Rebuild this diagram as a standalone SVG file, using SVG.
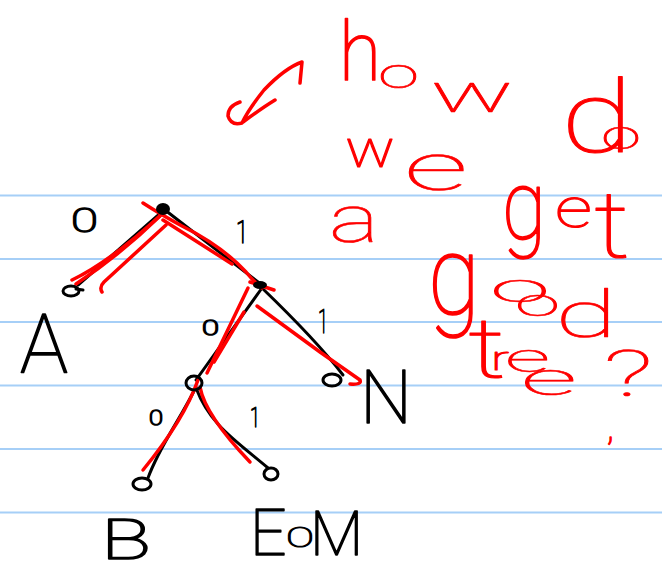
<svg xmlns="http://www.w3.org/2000/svg" width="662" height="573" viewBox="0 0 662 573">
<style>
.rule{stroke:#a6cff7;stroke-width:2.2}
.blk{fill:none;stroke:#000;stroke-width:3;stroke-linecap:round;stroke-linejoin:round}
.red{fill:none;stroke:#ff0000;stroke-width:3.5;stroke-linecap:round;stroke-linejoin:round}
.loop{fill:none;stroke:#000;stroke-width:3}
.lb{font-family:Roboto,"Open Sans","Liberation Sans",sans-serif;font-weight:100;fill:#000;stroke:#000;stroke-width:1.6;stroke-linejoin:round}
.rt{font-family:Roboto,"Open Sans","Liberation Sans",sans-serif;font-weight:100;fill:#ff0000;stroke:#ff0000;stroke-width:1.7;stroke-linejoin:round}
.sm{stroke-width:1.5}
.st{stroke-width:0.6}
.md{stroke-width:1.1}
</style>
<rect width="662" height="573" fill="#fff"/>
<g id="ruled-lines">
<line class="rule" x1="0" y1="195.5" x2="662" y2="195.5"/>
<line class="rule" x1="0" y1="259" x2="662" y2="259"/>
<line class="rule" x1="0" y1="322" x2="662" y2="322"/>
<line class="rule" x1="0" y1="385.5" x2="662" y2="385.5"/>
<line class="rule" x1="0" y1="449" x2="662" y2="449"/>
<line class="rule" x1="0" y1="512.5" x2="662" y2="512.5"/>
</g>
<g id="connectors">
<path class="blk" d="M163 211 L78 285"/>
<path class="blk" d="M165 210 L258 282"/>
<path class="blk" d="M262 288 L196 380"/>
<path class="blk" d="M262 288 C290 315 320 345 343 375"/>
<path class="blk" d="M196 387 C180 420 160 445 148 478"/>
<path class="blk" d="M196 388 C210 425 235 440 268 468"/>
<path class="red" d="M72 280 Q110 262 163 213"/>
<path class="red" d="M76 284 Q120 255 160 216"/>
<path class="red" d="M102 292 Q99 287 104 282 L166 225"/>
<path class="red" d="M143 203 Q160 214 182 226 Q222 246 246 272 Q254 282 262 288"/>
<path class="red" d="M163 220 L232 264"/>
<path class="red" d="M250 282 L274 290"/>
<path class="red" d="M248 288 L207 373"/>
<path class="red" d="M244 312 L214 362"/>
<path class="red" d="M257 306 L320 352 L360 380 Q362 385 350 384"/>
<path class="red" d="M198 380 Q184 420 143 470"/>
<path class="red" d="M200 387 Q205 415 250 462"/>
<path class="red" d="M300 83 L302 62 Q285 68 264 90 Q248 110 242 123 Q231 126 228 116 Q228 106 240 102 M243 122 Q262 108 275 100"/>
</g>
<g id="node-root"><ellipse cx="163" cy="209" rx="7" ry="6" fill="#000"/></g>
<g id="node-A"><ellipse class="loop" cx="71" cy="291" rx="8" ry="5"/><path class="blk" d="M76 289 L83 290"/></g>
<g id="node-inner1"><ellipse cx="260" cy="285" rx="7" ry="4" fill="#000"/></g>
<g id="node-inner2"><ellipse class="loop" cx="194" cy="383" rx="8" ry="7"/></g>
<g id="node-N"><ellipse class="loop" cx="332" cy="380" rx="9" ry="6"/></g>
<g id="node-B"><ellipse class="loop" cx="142" cy="484" rx="9" ry="6"/></g>
<g id="node-EOM"><ellipse class="loop" cx="271" cy="474" rx="7" ry="6"/></g>
<g id="edge-labels">
<text class="lb sm" x="71" y="232" font-size="33" textLength="27" lengthAdjust="spacingAndGlyphs">0</text>
<text class="lb sm" x="236" y="243" font-size="32" textLength="12" lengthAdjust="spacingAndGlyphs">1</text>
<text class="lb sm" x="202" y="335" font-size="21" textLength="17" lengthAdjust="spacingAndGlyphs">0</text>
<text class="lb sm" x="318" y="333" font-size="34" textLength="10" lengthAdjust="spacingAndGlyphs">1</text>
<text class="lb sm" x="149" y="425" font-size="21" textLength="14" lengthAdjust="spacingAndGlyphs">0</text>
<text class="lb sm" x="250" y="427" font-size="28" textLength="10" lengthAdjust="spacingAndGlyphs">1</text>
</g>
<g id="leaf-labels">
<text class="lb" x="20" y="372" font-size="82" textLength="48" lengthAdjust="spacingAndGlyphs">A</text>
<text class="lb" x="360" y="423" font-size="74" textLength="52" lengthAdjust="spacingAndGlyphs">N</text>
<text class="lb" x="101" y="559" font-size="56" textLength="50" lengthAdjust="spacingAndGlyphs">B</text>
<text class="lb"><tspan x="250" y="555" font-size="64">E</tspan><tspan class="md" x="286" y="547" font-size="27" textLength="28" lengthAdjust="spacingAndGlyphs">O</tspan><tspan x="310" y="555" font-size="62">M</tspan></text>
</g>
<g id="question">
<text class="rt"><tspan x="339" y="80" font-size="82" textLength="42" lengthAdjust="spacingAndGlyphs">h</tspan><tspan class="st" x="378" y="88" font-size="42" textLength="41" lengthAdjust="spacingAndGlyphs">o</tspan><tspan class="st" x="430" y="112" font-size="56" textLength="84" lengthAdjust="spacingAndGlyphs">w</tspan></text>
<text class="rt"><tspan class="md" x="561" y="152" font-size="100" textLength="72" lengthAdjust="spacingAndGlyphs">d</tspan><tspan class="st" x="601" y="149" font-size="40" textLength="40" lengthAdjust="spacingAndGlyphs">o</tspan></text>
<text class="rt"><tspan class="md" x="345" y="167" font-size="54" textLength="50" lengthAdjust="spacingAndGlyphs">w</tspan><tspan class="st" x="404" y="190" font-size="66" textLength="64" lengthAdjust="spacingAndGlyphs">e</tspan></text>
<text class="rt st" x="329" y="242" font-size="66" textLength="50" lengthAdjust="spacingAndGlyphs">a</text>
<text class="rt"><tspan x="502" y="238" font-size="96" textLength="44" lengthAdjust="spacingAndGlyphs">g</tspan><tspan class="md" x="555" y="227" font-size="56" textLength="37" lengthAdjust="spacingAndGlyphs">e</tspan><tspan class="md" x="594" y="257" font-size="92" textLength="36" lengthAdjust="spacingAndGlyphs">t</tspan></text>
<text class="rt"><tspan x="428" y="314" font-size="112" textLength="52" lengthAdjust="spacingAndGlyphs">g</tspan><tspan class="st" x="490" y="302" font-size="40" textLength="60" lengthAdjust="spacingAndGlyphs">o</tspan><tspan class="st" x="515" y="316" font-size="38" textLength="45" lengthAdjust="spacingAndGlyphs">o</tspan><tspan class="st" x="555" y="337" font-size="64" textLength="62" lengthAdjust="spacingAndGlyphs">d</tspan></text>
<text class="rt"><tspan class="md" x="468" y="377" font-size="84" textLength="38" lengthAdjust="spacingAndGlyphs">t</tspan><tspan class="md" x="491" y="370" font-size="34" textLength="18" lengthAdjust="spacingAndGlyphs">r</tspan><tspan class="st" x="505" y="372" font-size="40" textLength="45" lengthAdjust="spacingAndGlyphs">e</tspan><tspan class="st" x="521" y="395" font-size="46" textLength="56" lengthAdjust="spacingAndGlyphs">e</tspan><tspan class="st" x="603" y="396" font-size="64" textLength="50" lengthAdjust="spacingAndGlyphs">?</tspan></text>
<text class="rt sm" x="607" y="440" font-size="36">,</text>
</g>
</svg>
